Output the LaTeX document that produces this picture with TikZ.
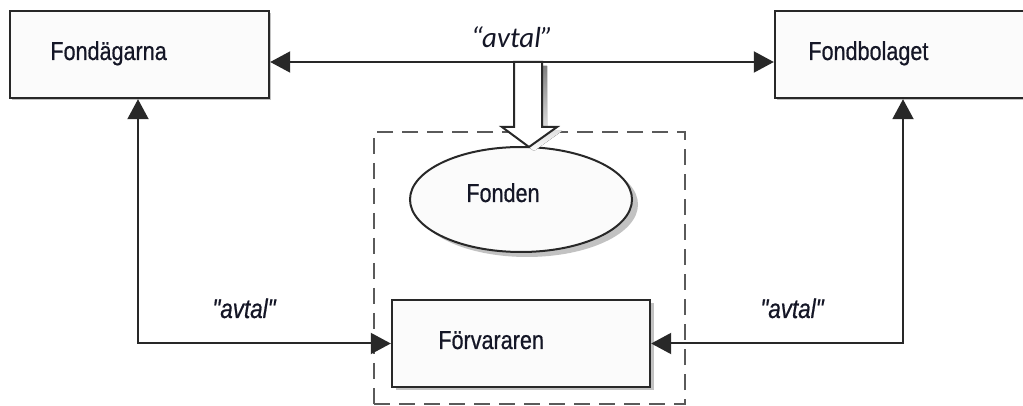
\documentclass[tikz,border=0pt]{standalone}
\usepackage{fontspec}
\newfontfamily\narrowsans[FakeStretch=0.83,FakeBold=0.6]{Liberation Sans}
\newfontfamily\quotesans{Carlito}
\usetikzlibrary{arrows.meta,shadows,shapes.geometric}
\definecolor{ink}{RGB}{20,22,38}
\definecolor{frame}{RGB}{40,40,40}
\definecolor{shade}{RGB}{135,135,135}
\definecolor{paper}{RGB}{251,251,251}
\definecolor{dashgray}{RGB}{90,90,90}

\tikzset{
  partybox/.style={draw=frame, line width=1.2pt, fill=paper, inner sep=0pt,
    minimum width=#1, minimum height=43.5pt,
    drop shadow={shadow xshift=0.8pt, shadow yshift=-0.8pt, fill=shade}},
  keeperbox/.style={draw=frame, line width=1.2pt, fill=paper, inner sep=0pt,
    minimum width=129pt, minimum height=43.5pt,
    drop shadow={shadow xshift=2pt, shadow yshift=-1.6pt, fill=shade}},
  fundshape/.style={ellipse, draw=frame, line width=1pt, fill=paper, inner sep=0pt,
    minimum width=111pt, minimum height=52.5pt,
    drop shadow={shadow xshift=3pt, shadow yshift=-2.5pt, fill=shade}},
  depotframe/.style={draw=dashgray, line width=1.3pt, dash pattern=on 8pt off 4.5pt,
    inner sep=0pt, minimum width=155.5pt, minimum height=136pt},
  partytext/.style={font=\narrowsans\fontsize{13}{15}\selectfont, text=ink, inner sep=0pt, anchor=base west},
  dealtext/.style={font=\narrowsans\itshape\fontsize{13.5}{16}\selectfont, text=ink, inner sep=0pt, anchor=base},
  topdealtext/.style={font=\quotesans\itshape\fontsize{14.5}{17}\selectfont, text=ink, inner sep=0pt, anchor=base},
  wire/.style={draw=frame, line width=1pt},
  arrowboth/.style={{Triangle[length=10pt,width=10.5pt]}-{Triangle[length=10pt,width=10.5pt]}},
}

\begin{document}
\begin{tikzpicture}[x=0.5pt,y=-0.5pt]
  \useasboundingbox (0,0) rectangle (1023,406);
  \clip (0,0) rectangle (1023,406);
  \fill[white] (0,0) rectangle (1023,406);

  % dashed frame round the fund and its depositary
  \node[depotframe] (depot) at (529.5,268) {};

  % the parties
  \node[partybox=129.5pt] (owners) at (139.5,54.5) {};
  \node[partybox=132.5pt] (company) at (907.5,54.5) {};
  \node[fundshape] (fund) at (521,199.5) {};
  \node[keeperbox] (keeper) at (521,343.5) {};

  \node[partytext] (ownerstext) at (50,60) {Fondägarna};
  \node[partytext] (companytext) at (808,60) {Fondbolaget};
  \node[partytext] (fundtext) at (466,202) {Fonden};
  \node[partytext] (keepertext) at (438,349) {Förvararen};

  % agreement between unit holders and the management company
  \draw[wire,arrowboth] (owners.east |- 0,62) -- (company.west |- 0,62);
  \node[topdealtext] (topdeal) at (512,48) {“avtal”};

  % hollow arrow from the agreement down to the fund
  \fill[shade] (519,66) -- (519,131) -- (507,131) -- (534,151) -- (562,131)
     -- (547,131) -- (547,66) -- cycle;
  \filldraw[fill=white, draw=frame, line width=1pt, line join=miter]
     (514,62) -- (514,127) -- (502,127) -- (529,147) -- (557,127)
     -- (542,127) -- (542,62) -- cycle;

  % agreements with the depositary
  \coordinate (leftturn) at (138,343.5);
  \coordinate (rightturn) at (903,343.5);
  \draw[wire,arrowboth] (owners.south -| leftturn) -- (leftturn) -- (keeper.west);
  \draw[wire,arrowboth] (company.south -| rightturn) -- (rightturn) -- (keeper.east);
  \node[dealtext] (leftdeal) at (244,318) {"avtal"};
  \node[dealtext] (rightdeal) at (792,318) {"avtal"};
\end{tikzpicture}
\end{document}
